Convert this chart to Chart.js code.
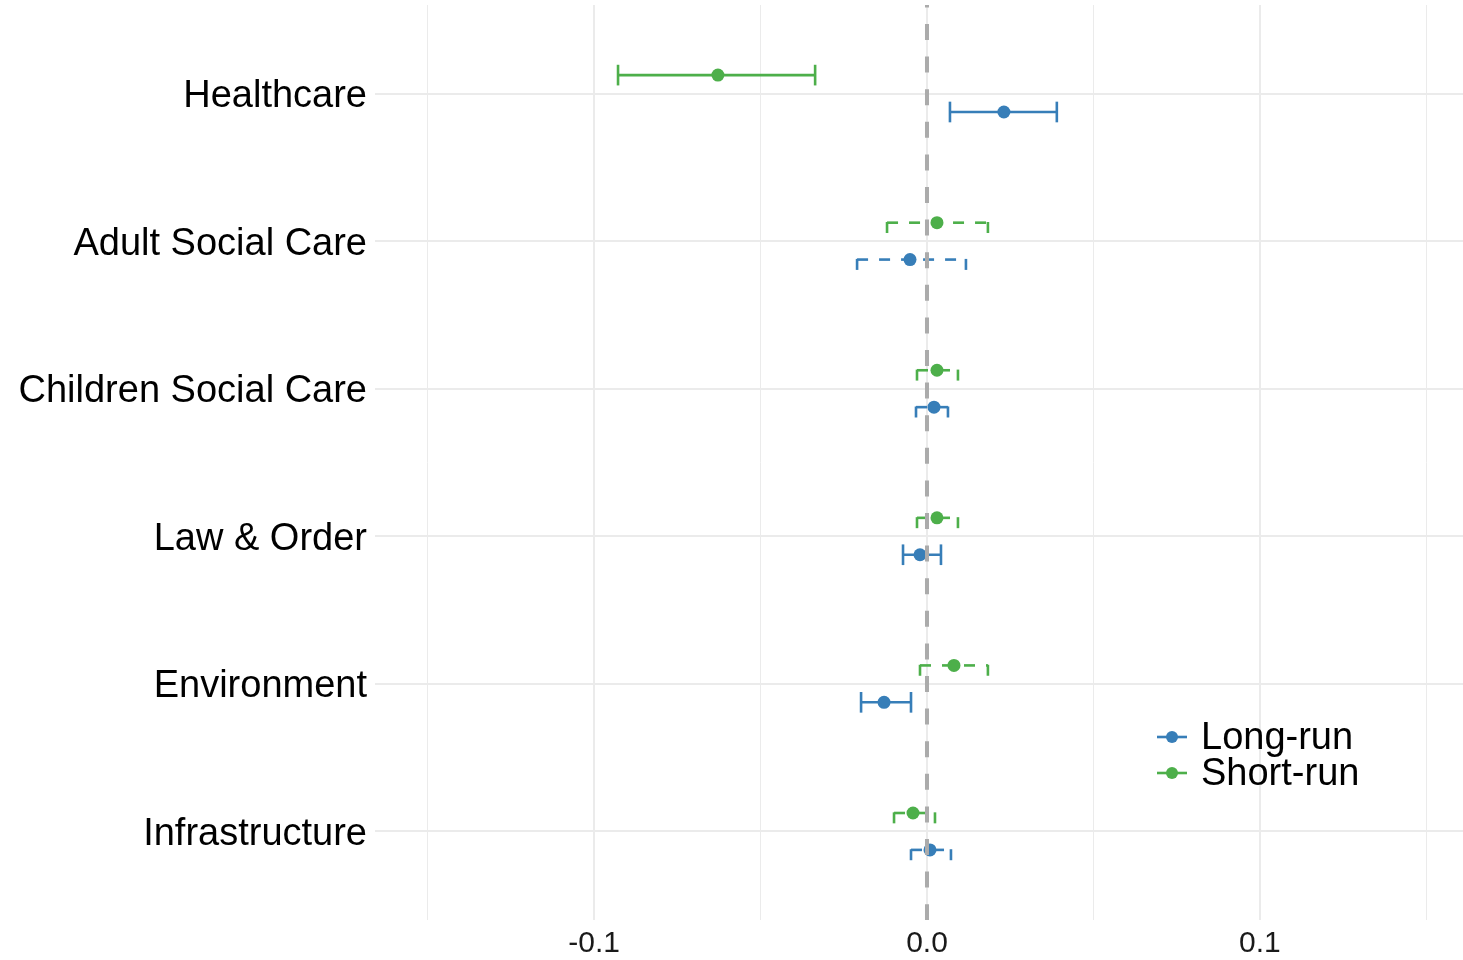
<!DOCTYPE html>
<html>
<head>
<meta charset="utf-8">
<title>Long-run vs short-run effects</title>
<script src="https://cdn.jsdelivr.net/npm/chart.js@4.4.1/dist/chart.umd.min.js"></script>
<style>
  html, body { margin: 0; padding: 0; background: #fff; }
  #wrap { width: 1463px; height: 960px; }
</style>
</head>
<body>
<div id="wrap"><canvas id="effects" width="1463" height="960"></canvas></div>
<script>
const categories = ["Healthcare", "Adult Social Care", "Children Social Care", "Law & Order", "Environment", "Infrastructure"];

// long-run estimates with confidence bounds
const longEst  = [0.0231, -0.0051, 0.0021, -0.0021, -0.0129, 0.0009];
const longLow  = [0.0069, -0.0210, -0.0033, -0.0072, -0.0198, -0.0048];
const longHigh = [0.0390, 0.0117, 0.0063, 0.0042, -0.0048, 0.0072];
const longDashed = [false, true, true, false, false, true];

// short-run estimates with confidence bounds
const shortEst  = [-0.0628, 0.0030, 0.0030, 0.0030, 0.0081, -0.0042];
const shortLow  = [-0.0928, -0.0120, -0.0030, -0.0030, -0.0021, -0.0099];
const shortHigh = [-0.0336, 0.0183, 0.0093, 0.0093, 0.0183, 0.0024];
const shortDashed = [false, true, true, true, true, true];

const xTicks = [-0.15, -0.1, -0.05, 0, 0.05, 0.1, 0.15];
const xLabels = { "-0.1": "-0.1", "0": "0.0", "0.1": "0.1" };

const BLUE = "#377EB8";
const GREEN = "#4DAF4A";
const LONG_OFFSET = 0.125;
const SHORT_OFFSET = -0.125;
const CAP = 0.07;

function points(est, offset) {
  return est.map((v, i) => ({ x: v, y: i + offset }));
}

// horizontal error bars, each piece starting its own dash pattern
const errorBars = {
  id: "errorBars",
  beforeDatasetsDraw(chart) {
    const ctx = chart.ctx;
    const xs = chart.scales.x, ys = chart.scales.y;
    const groups = [
      { low: longLow, high: longHigh, dashed: longDashed, off: LONG_OFFSET, color: BLUE },
      { low: shortLow, high: shortHigh, dashed: shortDashed, off: SHORT_OFFSET, color: GREEN }
    ];
    ctx.save();
    ctx.lineWidth = 2.6;
    ctx.lineCap = "butt";
    groups.forEach(g => {
      ctx.strokeStyle = g.color;
      categories.forEach((c, i) => {
        const y = ys.getPixelForValue(i + g.off);
        const yTop = ys.getPixelForValue(i + g.off - CAP);
        const yBot = ys.getPixelForValue(i + g.off + CAP);
        const x1 = xs.getPixelForValue(g.low[i]);
        const x2 = xs.getPixelForValue(g.high[i]);
        ctx.setLineDash(g.dashed[i] ? [11, 11] : []);
        const seg = (ax, ay, bx, by) => {
          ctx.beginPath();
          ctx.moveTo(ax, ay);
          ctx.lineTo(bx, by);
          ctx.stroke();
        };
        seg(x1, yBot, x1, yTop);
        seg(x1, y, x2, y);
        seg(x2, yBot, x2, yTop);
      });
    });
    ctx.restore();
  },
  afterDatasetsDraw(chart) {
    // dashed reference line at zero
    const ctx = chart.ctx;
    const x0 = chart.scales.x.getPixelForValue(0);
    const area = chart.chartArea;
    ctx.save();
    ctx.strokeStyle = "#ABABAB";
    ctx.lineWidth = 4;
    ctx.setLineDash([16, 16.6]);
    ctx.lineDashOffset = 13.6;
    ctx.beginPath();
    ctx.moveTo(x0, area.top);
    ctx.lineTo(x0, area.bottom);
    ctx.stroke();
    ctx.restore();

    // legend inside the panel
    const items = [["Long-run", BLUE], ["Short-run", GREEN]];
    ctx.save();
    ctx.font = "38px 'Liberation Sans', Arial, sans-serif";
    ctx.textBaseline = "middle";
    items.forEach((it, k) => {
      const y = 737 + k * 36;
      ctx.strokeStyle = it[1];
      ctx.fillStyle = it[1];
      ctx.lineWidth = 2.6;
      ctx.beginPath();
      ctx.moveTo(1157, y);
      ctx.lineTo(1187, y);
      ctx.stroke();
      ctx.beginPath();
      ctx.arc(1172, y, 6, 0, Math.PI * 2);
      ctx.fill();
      ctx.fillStyle = "#000";
      ctx.fillText(it[0], 1201, y + 2);
    });
    ctx.restore();
  }
};

new Chart(document.getElementById("effects"), {
  type: "scatter",
  data: {
    datasets: [
      {
        label: "Long-run",
        data: points(longEst, LONG_OFFSET),
        backgroundColor: BLUE,
        borderColor: BLUE,
        pointRadius: 6.5,
        borderWidth: 0
      },
      {
        label: "Short-run",
        data: points(shortEst, SHORT_OFFSET),
        backgroundColor: GREEN,
        borderColor: GREEN,
        pointRadius: 6.5,
        borderWidth: 0
      }
    ]
  },
  options: {
    responsive: false,
    animation: false,
    devicePixelRatio: 1,
    layout: { autoPadding: false, padding: { top: 5, right: 0, bottom: 0, left: 0 } },
    plugins: {
      legend: { display: false },
      tooltip: { enabled: false }
    },
    scales: {
      x: {
        type: "linear",
        min: -0.1658,
        max: 0.161,
        afterBuildTicks(scale) {
          scale.ticks = xTicks.map(v => ({ value: v }));
        },
        afterFit(scale) {
          scale.height = 40;
          scale.paddingLeft = 0;
          scale.paddingRight = 0;
        },
        border: { display: false },
        grid: {
          drawTicks: false,
          color: "#EBEBEB",
          lineWidth: ctx => (xLabels[String(ctx.tick.value)] ? 2 : 1)
        },
        ticks: {
          padding: 6,
          color: "#1a1a1a",
          font: { family: "'Liberation Sans', Arial, sans-serif", size: 30 },
          maxRotation: 0,
          autoSkip: false,
          callback: v => xLabels[String(v)] || ""
        }
      },
      y: {
        type: "linear",
        reverse: true,
        min: -0.6,
        max: 5.6,
        afterBuildTicks(scale) {
          scale.ticks = categories.map((c, i) => ({ value: i }));
        },
        afterFit(scale) {
          scale.width = 375;
          scale.paddingTop = 0;
          scale.paddingBottom = 0;
        },
        border: { display: false },
        grid: { drawTicks: false, color: "#EBEBEB", lineWidth: 2 },
        ticks: {
          padding: 8,
          labelOffset: 3,
          color: "#000",
          font: { family: "'Liberation Sans', Arial, sans-serif", size: 38 },
          autoSkip: false,
          callback: v => categories[v] || ""
        }
      }
    }
  },
  plugins: [errorBars]
});
</script>
</body>
</html>
